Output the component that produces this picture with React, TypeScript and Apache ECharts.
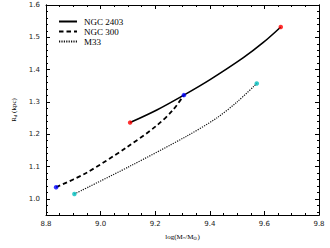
import React, { useEffect, useRef } from "react";
import * as echarts from "echarts";

const ngc2403X = [9.108, 9.206, 9.305, 9.401, 9.523, 9.596, 9.66];
const ngc2403Y = [1.236, 1.275, 1.321, 1.369, 1.437, 1.484, 1.532];
const ngc300X = [8.837, 8.947, 9.093, 9.203, 9.264, 9.305];
const ngc300Y = [1.036, 1.08, 1.158, 1.225, 1.274, 1.321];
const m33X = [8.904, 9.105, 9.313, 9.425, 9.5, 9.572];
const m33Y = [1.015, 1.1, 1.193, 1.25, 1.3, 1.357];
const yMajor = [1.0, 1.1, 1.2, 1.3, 1.4, 1.5, 1.6];
const yMinor = [0.96, 0.98, 1.02, 1.04, 1.06, 1.08, 1.12, 1.14, 1.16, 1.18, 1.22, 1.24, 1.26, 1.28, 1.32, 1.34, 1.36, 1.38, 1.42, 1.44, 1.46, 1.48, 1.52, 1.54, 1.56, 1.58];

const zip = (xs: number[], ys: number[]) => xs.map((x, i) => [x, ys[i]]);
const ends = (xs: number[], ys: number[]) => [[xs[0], ys[0]], [xs[xs.length - 1], ys[ys.length - 1]]];

export default function App() {
  const ref = useRef<HTMLDivElement>(null);
  useEffect(() => {
    const chart = echarts.init(ref.current!, null, { renderer: "svg" });
    const line = { color: "#000", width: 1 };
    const xBase = {
      type: "value", min: 8.8, max: 9.8, interval: 0.2,
      axisLine: { lineStyle: line },
      splitLine: { show: false },
      axisTick: { inside: true, length: 4, lineStyle: line },
      minorTick: { show: true, splitNumber: 4, length: 2, lineStyle: line },
    };
    const yBase = (pos: string, vals: number[], len: number, labels: boolean, name?: any) => ({
      type: "value", min: 0.95, max: 1.6, position: pos,
      axisLine: { show: true, lineStyle: line },
      splitLine: { show: false },
      axisTick: { inside: true, length: len, customValues: vals, lineStyle: line },
      axisLabel: labels
        ? { customValues: yMajor, fontSize: 7, color: "#222", fontFamily: "DejaVu Sans", margin: 6, formatter: (v: number) => v.toFixed(1) }
        : { show: false },
      ...(name || {}),
    });
    chart.setOption({
      animation: false,
      grid: { left: 46, right: 11, top: 5, bottom: 33 },
      legend: {
        data: ["NGC 2403", "NGC 300", "M33"],
        orient: "vertical", left: 53, top: 12, itemGap: 1, itemWidth: 18, itemHeight: 8,
        itemStyle: { opacity: 0 },
        textStyle: { fontFamily: "Liberation Serif", fontSize: 9, lineHeight: 8, color: "#000", padding: [0, 0, 0, 2] },
      },
      xAxis: [
        {
          ...xBase, position: "bottom",
          axisLabel: { fontSize: 7, color: "#222", fontFamily: "DejaVu Sans", margin: 5, formatter: (v: number) => v.toFixed(1) },
          name: "{n|log(M}{s|*}{n|/M}{s|⊙}{n|)}", nameLocation: "middle", nameGap: 18,
          nameTextStyle: {
            rich: {
              n: { fontFamily: "Liberation Serif", fontSize: 7, color: "#000" },
              s: { fontFamily: "Liberation Serif", fontSize: 5, color: "#000", verticalAlign: "bottom", padding: [3, 0, 0, 0] },
            },
          },
        },
        { ...xBase, position: "top", axisLabel: { show: false } },
      ],
      yAxis: [
        yBase("left", yMajor, 4, true, {
          name: "{n|R}{s|d}{n| (kpc)}", nameLocation: "middle", nameGap: 19,
          nameTextStyle: {
            rich: {
              n: { fontFamily: "Liberation Serif", fontSize: 7, color: "#000" },
              s: { fontFamily: "Liberation Serif", fontSize: 5, color: "#000", padding: [3, 0, 0, 0] },
            },
          },
        }),
        yBase("left", yMinor, 2, false),
        yBase("right", yMajor, 4, false),
        yBase("right", yMinor, 2, false),
      ],
      series: [
        { name: "NGC 2403", type: "line", data: zip(ngc2403X, ngc2403Y), smooth: 0.3, symbol: "none", color: "#000", lineStyle: { color: "#000", width: 1.6, type: "solid" } },
        { name: "NGC 300", type: "line", data: zip(ngc300X, ngc300Y), smooth: 0.3, symbol: "none", color: "#000", lineStyle: { color: "#000", width: 1.8, type: [4.5, 3] } },
        { name: "M33", type: "line", data: zip(m33X, m33Y), smooth: 0.3, symbol: "none", color: "#000", lineStyle: { color: "#111", width: 1.2, type: [1.2, 1.2] } },
        { type: "scatter", data: ends(ngc2403X, ngc2403Y), symbolSize: 4.5, itemStyle: { color: "#ff0000" }, z: 5 },
        { type: "scatter", data: ends(ngc300X, ngc300Y), symbolSize: 4.5, itemStyle: { color: "#0000ff" }, z: 5 },
        { type: "scatter", data: ends(m33X, m33Y), symbolSize: 4.5, itemStyle: { color: "#00bfbf" }, z: 5 },
      ],
    });
    return () => chart.dispose();
  }, []);
  return <div ref={ref} style={{ width: 330, height: 248, position: "absolute", left: 0, top: 0 }} />;
}
